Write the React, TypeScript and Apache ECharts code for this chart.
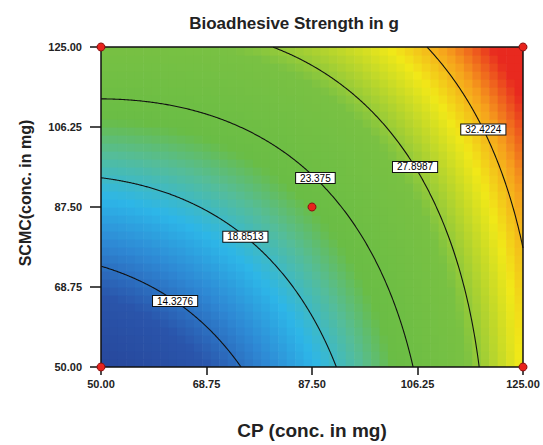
import React, { useEffect, useRef } from "react";
import * as echarts from "echarts";

// ---------- data ----------
const chartTitle = "Bioadhesive Strength in g";
const xAxisName = "CP (conc. in mg)";
const yAxisName = "SCMC(conc. in mg)";
const xRange = [50, 125];
const yRange = [50, 125];
const tickValues = [50, 68.75, 87.5, 106.25, 125];
// quadratic response-surface model in coded units, estimated from where the drawn contours cross the frame
// order: intercept, A, B, AB, A^2, B^2
const modelCoefficients = [22.215, 7.895, 5.585, -2.775, 2.97, 0.95];
const contourLevels = [14.3276, 18.8513, 23.375, 27.8987, 32.4224];
const contourLabelX = [63.9, 76.3, 88.3, 106.3, 118.1];
const contourLabelY = [66.3, 81.3, 94.5, 97.3, 105.8];
const designPointX = [50, 50, 125, 125, 87.5];
const designPointY = [50, 125, 50, 125, 87.5];

// ---------- helpers ----------
const FONT = "'Liberation Sans', Arial, Helvetica, sans-serif";
const NX = 50;
const NY = 40;

const mid = (r: number[]) => (r[0] + r[1]) / 2;
const half = (r: number[]) => (r[1] - r[0]) / 2;
const toCodedX = (v: number) => (v - mid(xRange)) / half(xRange);
const toCodedY = (v: number) => (v - mid(yRange)) / half(yRange);
const fromCodedX = (a: number) => mid(xRange) + a * half(xRange);
const fromCodedY = (b: number) => mid(yRange) + b * half(yRange);

function predictCoded(A: number, B: number) {
  const [b0, b1, b2, b12, b11, b22] = modelCoefficients;
  return b0 + b1 * A + b2 * B + b12 * A * B + b11 * A * A + b22 * B * B;
}

// colour ramp (style)
const rampStops: [number, string][] = [
  [9.9, "#27479b"],
  [13.0, "#2a55ab"],
  [15.5, "#2e88d4"],
  [17.8, "#2db6e8"],
  [20.2, "#55bd98"],
  [22.2, "#6abd45"],
  [27.0, "#79c143"],
  [31.0, "#f1e818"],
  [33.1, "#f6a01c"],
  [35.3, "#e8291f"],
];
function hexToRgb(h: string) {
  const n = parseInt(h.slice(1), 16);
  return [(n >> 16) & 255, (n >> 8) & 255, n & 255];
}
function colorFor(v: number) {
  if (v <= rampStops[0][0]) return rampStops[0][1];
  for (let i = 1; i < rampStops.length; i++) {
    if (v <= rampStops[i][0]) {
      const [v0, c0] = rampStops[i - 1];
      const [v1, c1] = rampStops[i];
      const t = (v - v0) / (v1 - v0);
      const a = hexToRgb(c0);
      const b = hexToRgb(c1);
      const c = a.map((x, k) => Math.round(x + (b[k] - x) * t));
      return `rgb(${c[0]},${c[1]},${c[2]})`;
    }
  }
  return rampStops[rampStops.length - 1][1];
}

// point on a contour along a ray from the low corner
function solveOnRay(level: number, c: number, s: number): number | null {
  const tmax = 2 / Math.max(c, s);
  const at = (t: number) => predictCoded(-1 + c * t, -1 + s * t);
  if (at(tmax) < level || at(0) > level) return null;
  let lo = 0;
  let hi = tmax;
  for (let i = 0; i < 40; i++) {
    const m = (lo + hi) / 2;
    if (at(m) < level) lo = m;
    else hi = m;
  }
  return (lo + hi) / 2;
}

function contourPoints(level: number) {
  const pts: number[][] = [];
  const N = 900;
  for (let k = 0; k <= N; k++) {
    const th = ((Math.PI / 2) * k) / N;
    const c = Math.cos(th);
    const s = Math.sin(th);
    const t = solveOnRay(level, c, s);
    if (t === null) continue;
    pts.push([fromCodedX(-1 + c * t), fromCodedY(-1 + s * t)]);
  }
  return pts;
}

function labelPoint(level: number, x: number, y: number) {
  const dA = toCodedX(x) + 1;
  const dB = toCodedY(y) + 1;
  const len = Math.hypot(dA, dB);
  const c = dA / len;
  const s = dB / len;
  const t = solveOnRay(level, c, s);
  if (t === null) return [x, y];
  return [fromCodedX(-1 + c * t), fromCodedY(-1 + s * t)];
}

export default function App() {
  const ref = useRef<HTMLDivElement>(null);

  useEffect(() => {
    document.body.style.margin = "0";
    if (!ref.current) return;
    const chart = echarts.init(ref.current, undefined, { renderer: "svg" });

    const dx = (xRange[1] - xRange[0]) / NX;
    const dy = (yRange[1] - yRange[0]) / NY;
    const cells: number[][] = [];
    for (let i = 0; i < NX; i++) {
      for (let j = 0; j < NY; j++) {
        const x = xRange[0] + dx * (i + 0.5);
        const y = yRange[0] + dy * (j + 0.5);
        cells.push([x, y, predictCoded(toCodedX(x), toCodedY(y))]);
      }
    }

    const contourSeries = contourLevels.map((lv) => ({
      type: "line",
      data: contourPoints(lv),
      showSymbol: false,
      symbol: "none",
      lineStyle: { color: "#111", width: 1.1 },
      silent: true,
      z: 3,
      clip: true,
    }));

    const labelData = contourLevels.map((lv, i) => ({
      name: String(lv),
      value: labelPoint(lv, contourLabelX[i], contourLabelY[i]),
    }));

    const axisCommon = {
      type: "value",
      z: 10,
      splitLine: { show: false },
    };

    const option: any = {
      animation: false,
      grid: { left: 101, right: 20, top: 47, bottom: 75 },
      graphic: [
        {
          type: "text",
          x: 294,
          y: 23,
          style: {
            text: chartTitle,
            font: `bold 17px ${FONT}`,
            fill: "#222",
            textAlign: "center",
            textVerticalAlign: "middle",
          },
        },
        {
          type: "text",
          x: 25,
          y: 193,
          rotation: Math.PI / 2,
          style: {
            text: yAxisName,
            font: `bold 16px ${FONT}`,
            fill: "#222",
            textAlign: "center",
            textVerticalAlign: "middle",
          },
        },
      ],
      xAxis: [
        {
          ...axisCommon,
          position: "bottom",
          min: xRange[0],
          max: xRange[1],
          name: xAxisName,
          nameLocation: "middle",
          nameGap: 54,
          nameTextStyle: { fontFamily: FONT, fontWeight: "bold", fontSize: 19, color: "#222" },
          axisLine: { show: true, lineStyle: { color: "#111", width: 1.5 } },
          axisTick: { show: true, length: 8, customValues: tickValues, lineStyle: { color: "#111", width: 1.5 } },
          axisLabel: {
            customValues: tickValues,
            formatter: (v: number) => v.toFixed(2),
            fontFamily: FONT,
            fontWeight: "bold",
            fontSize: 11,
            color: "#222",
            margin: 11,
          },
        },
        {
          ...axisCommon,
          position: "top",
          min: xRange[0],
          max: xRange[1],
          axisLine: { show: true, lineStyle: { color: "#111", width: 1.5 } },
          axisTick: { show: false },
          axisLabel: { show: false },
        },
      ],
      yAxis: [
        {
          ...axisCommon,
          position: "left",
          min: yRange[0],
          max: yRange[1],
          axisLine: { show: true, lineStyle: { color: "#111", width: 1.5 } },
          axisTick: { show: true, length: 11, customValues: tickValues, lineStyle: { color: "#111", width: 1.5 } },
          axisLabel: {
            customValues: tickValues,
            formatter: (v: number) => v.toFixed(2),
            fontFamily: FONT,
            fontWeight: "bold",
            fontSize: 11,
            color: "#222",
            margin: 19,
          },
        },
        {
          ...axisCommon,
          position: "right",
          min: yRange[0],
          max: yRange[1],
          axisLine: { show: true, lineStyle: { color: "#111", width: 1.5 } },
          axisTick: { show: false },
          axisLabel: { show: false },
        },
      ],
      series: [
        {
          type: "custom",
          data: cells,
          encode: { x: 0, y: 1 },
          clip: true,
          silent: true,
          z: 1,
          renderItem: (_params: any, api: any) => {
            const x = api.value(0);
            const y = api.value(1);
            const p0 = api.coord([x - dx / 2, y + dy / 2]);
            const p1 = api.coord([x + dx / 2, y - dy / 2]);
            return {
              type: "rect",
              shape: { x: p0[0], y: p0[1], width: p1[0] - p0[0] + 0.6, height: p1[1] - p0[1] + 0.6 },
              style: { fill: colorFor(api.value(2)) },
            };
          },
        },
        ...contourSeries,
        {
          type: "scatter",
          data: labelData,
          symbol: "rect",
          symbolSize: 2,
          itemStyle: { color: "rgba(0,0,0,0)", opacity: 1 },
          silent: true,
          z: 5,
          labelLayout: { hideOverlap: false },
          label: {
            show: true,
            position: "inside",
            formatter: "{b}",
            fontFamily: FONT,
            fontSize: 10,
            color: "#000",
            opacity: 1,
            backgroundColor: "#ffffff",
            borderColor: "#111",
            borderWidth: 1,
            padding: [0, 4, 0, 4],
            lineHeight: 10,
          },
        },
        {
          type: "scatter",
          data: designPointX.map((x, i) => [x, designPointY[i]]),
          symbol: "circle",
          symbolSize: 8,
          clip: false,
          silent: true,
          z: 20,
          itemStyle: { color: "#e8231c", borderColor: "#8a1010", borderWidth: 1, opacity: 1 },
        },
      ],
    };

    chart.setOption(option);
    return () => chart.dispose();
  }, []);

  return <div ref={ref} style={{ width: 543, height: 445 }} />;
}
